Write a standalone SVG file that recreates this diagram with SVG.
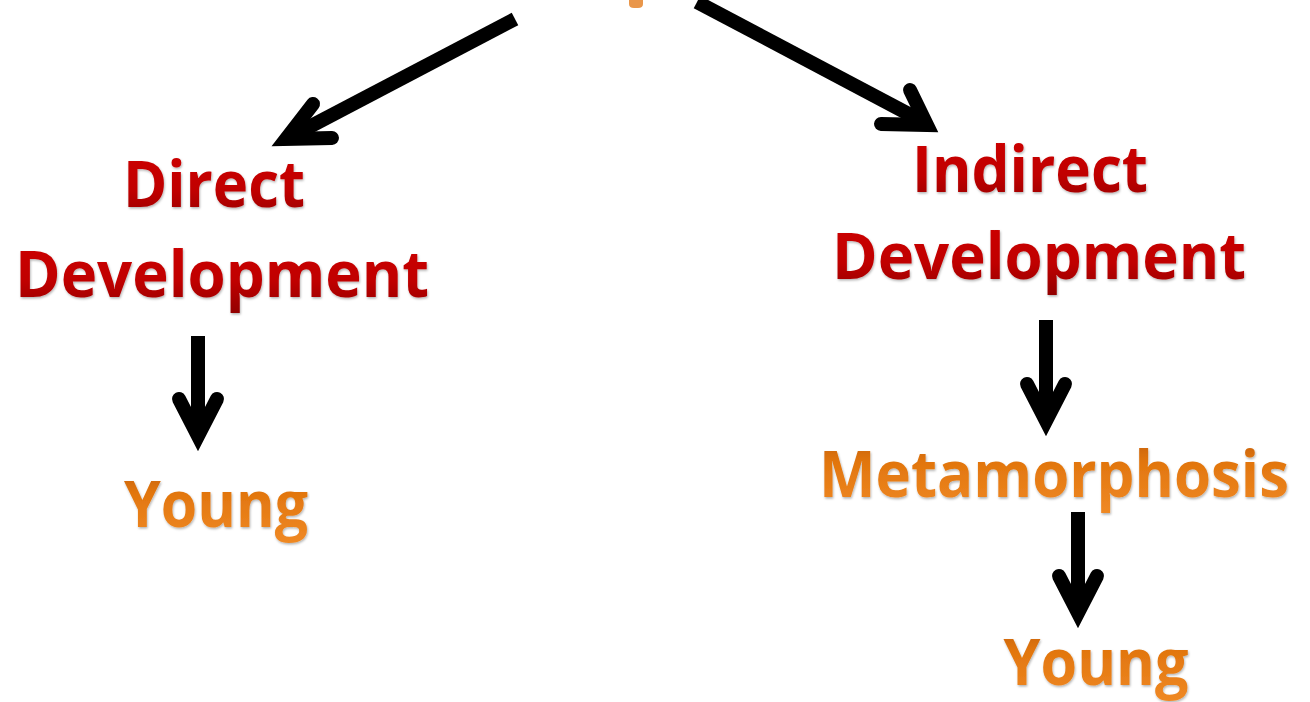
<svg xmlns="http://www.w3.org/2000/svg" width="1310" height="702" viewBox="0 0 1310 702">
  <defs>
    <linearGradient id="redFill" x1="0" y1="0" x2="0" y2="1">
      <stop offset="0" stop-color="#d00a0a"/>
      <stop offset="0.6" stop-color="#c00000"/>
      <stop offset="1" stop-color="#8e0000"/>
    </linearGradient>
    <linearGradient id="orangeFill" x1="0" y1="0" x2="0" y2="1">
      <stop offset="0" stop-color="#b85808"/>
      <stop offset="0.4" stop-color="#e2760e"/>
      <stop offset="1" stop-color="#f08a26"/>
    </linearGradient>
    <filter id="bevel" x="-1%" y="-10%" width="102%" height="130%">
      <feDropShadow dx="0.8" dy="1.5" stdDeviation="0.8" flood-color="#000" flood-opacity="0.3"/>
    </filter>
  </defs>
  <style>
    .lbl { font-family: "Open Sans", "Noto Sans", "Liberation Sans", sans-serif; font-weight: 700; text-anchor: middle; filter: url(#bevel); }
    .red { fill: url(#redFill); }
    .orange { fill: url(#orangeFill); }
    .shaft { fill: none; stroke: #000; stroke-width: 14; stroke-linecap: butt; }
    .head { fill: none; stroke: #000; stroke-width: 14; stroke-linecap: round; stroke-linejoin: miter; stroke-miterlimit: 10; }
  </style>

  <rect width="1310" height="702" fill="#fff"/>

  <!-- descender of the heading above the frame -->
  <path id="heading-tail" d="M629,0 H643 V4 Q643,8 638,8 H634 Q629,8 629,4 Z" fill="#e9964a"/>

  <g id="connectors">
    <!-- heading to direct development -->
    <path class="shaft" d="M515,19 L292,136"/>
    <path class="head" d="M313,104 L286,139 L332,138"/>
    <!-- heading to indirect development -->
    <path class="shaft" d="M697,2 L920,120"/>
    <path class="head" d="M910,90 L927,125 L881,124"/>
    <!-- direct development to young -->
    <path class="shaft" d="M198,336 L198,432"/>
    <path class="head" d="M179,399 L198,436 L217,399"/>
    <!-- indirect development to metamorphosis -->
    <path class="shaft" d="M1046,320 L1046,418"/>
    <path class="head" d="M1027,384 L1046,421 L1065,384"/>
    <!-- metamorphosis to young -->
    <path class="shaft" d="M1078,512 L1078,610"/>
    <path class="head" d="M1059,576 L1078,613 L1097,576"/>
  </g>

  <g id="direct-development">
    <text class="lbl red" x="214" y="207" font-size="65" textLength="182" lengthAdjust="spacingAndGlyphs">Direct</text>
    <text class="lbl red" x="222" y="297" font-size="65" textLength="414" lengthAdjust="spacingAndGlyphs">Development</text>
  </g>

  <g id="young-direct">
    <text class="lbl orange" x="216" y="527" font-size="65" textLength="184" lengthAdjust="spacingAndGlyphs">Young</text>
  </g>

  <g id="indirect-development">
    <text class="lbl red" x="1030" y="192" font-size="65" textLength="236" lengthAdjust="spacingAndGlyphs">Indirect</text>
    <text class="lbl red" x="1039" y="279" font-size="65" textLength="414" lengthAdjust="spacingAndGlyphs">Development</text>
  </g>

  <g id="metamorphosis">
    <text class="lbl orange" transform="translate(1054,497) scale(1,1.08)" x="0" y="0" font-size="60" textLength="470" lengthAdjust="spacingAndGlyphs">Metamorphosis</text>
  </g>

  <g id="young-indirect">
    <text class="lbl orange" x="1096" y="685" font-size="65" textLength="185" lengthAdjust="spacingAndGlyphs">Young</text>
  </g>
</svg>
